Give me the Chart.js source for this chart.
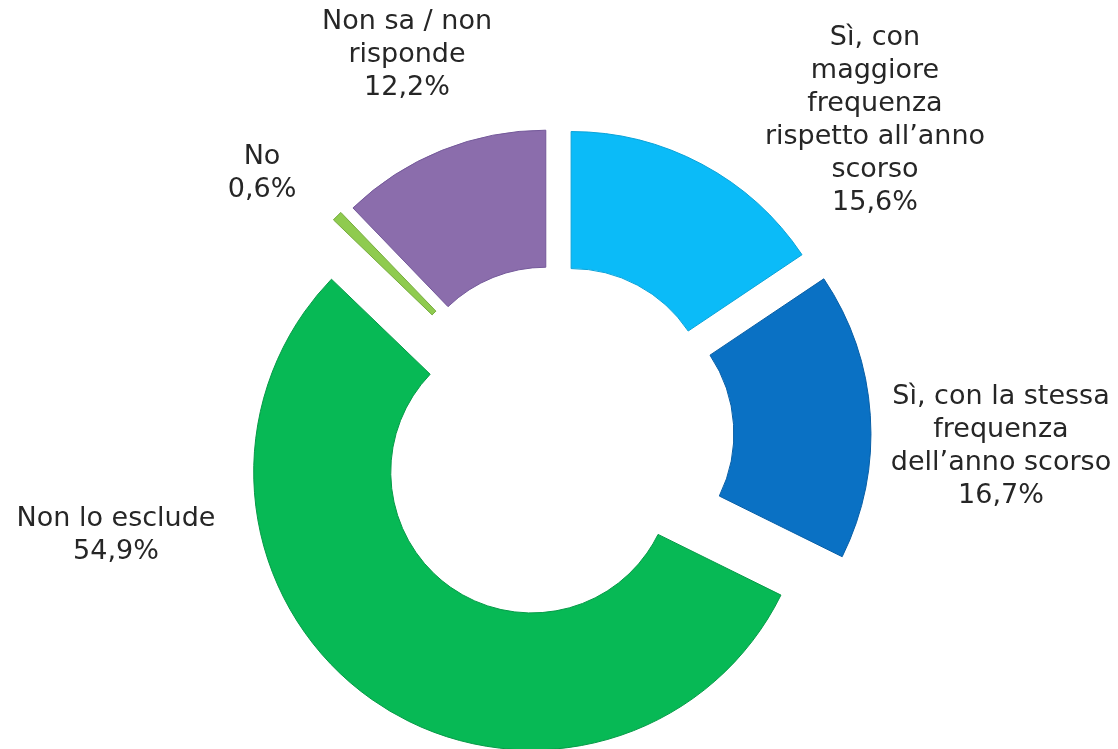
<!DOCTYPE html>
<html>
<head>
<meta charset="utf-8">
<script src="https://cdn.jsdelivr.net/npm/chart.js@4/dist/chart.umd.min.js"></script>
<style>
  html, body { margin: 0; padding: 0; background: #fff; }
  #wrap { width: 1118px; height: 749px; position: relative; }
</style>
</head>
<body>
<div id="wrap"><canvas id="donut"></canvas></div>
<script>
// data
const categories = [
    ['Sì, con', 'maggiore', 'frequenza', 'rispetto all’anno', 'scorso'],
    ['Sì, con la stessa', 'frequenza', 'dell’anno scorso'],
    ['Non lo esclude'],
    ['No'],
    ['Non sa / non', 'risponde']
];
const values = [15.6, 16.7, 54.9, 0.6, 12.2];

// styling / layout
const colors = ['#0bbbf8', '#0a71c4', '#07b955', '#8fcb4f', '#8b6dac'];
const borders = ['#0aa2d8', '#075ea6', '#069a47', '#74aa3c', '#74599a'];
const explode = [30, 36, 44, 33, 30];            // px each slice is pulled out
const labelPos = [[875, 38], [1001, 397], [116, 519], [262, 157], [407, 22]]; // centre of first line
const LINE_H = 33;

// pull slices out, drawing each arc with its own draw()
const explodePlugin = {
    id: 'explode',
    beforeDatasetDraw(chart, args) {
        const ctx = chart.ctx;
        args.meta.data.forEach((arc, i) => {
            const mid = (arc.startAngle + arc.endAngle) / 2;
            ctx.save();
            ctx.translate(Math.cos(mid) * explode[i], Math.sin(mid) * explode[i]);
            arc.draw(ctx);
            ctx.restore();
        });
        return false;
    }
};

// outside labels, Excel style
const labelPlugin = {
    id: 'sliceLabels',
    afterDraw(chart) {
        const ctx = chart.ctx;
        ctx.save();
        ctx.fillStyle = '#262626';
        ctx.font = '27px "DejaVu Sans", Verdana, sans-serif';
        ctx.textAlign = 'center';
        ctx.textBaseline = 'middle';
        categories.forEach((lines, i) => {
            const txt = lines.concat([values[i].toFixed(1).replace('.', ',') + '%']);
            txt.forEach((t, j) => {
                ctx.fillText(t, labelPos[i][0], labelPos[i][1] + j * LINE_H);
            });
        });
        ctx.restore();
    }
};

new Chart(document.getElementById('donut'), {
    type: 'doughnut',
    data: {
        labels: categories,
        datasets: [{
            data: values,
            backgroundColor: colors,
            borderColor: borders,
            borderWidth: 1
        }]
    },
    options: {
        responsive: true,
        maintainAspectRatio: false,
        animation: false,
        radius: 278,
        cutout: '50.7%',
        layout: { padding: { top: 133, bottom: 10, left: 100, right: 104 } },
        plugins: {
            legend: { display: false },
            tooltip: { enabled: false }
        }
    },
    plugins: [explodePlugin, labelPlugin]
});
</script>
</body>
</html>
